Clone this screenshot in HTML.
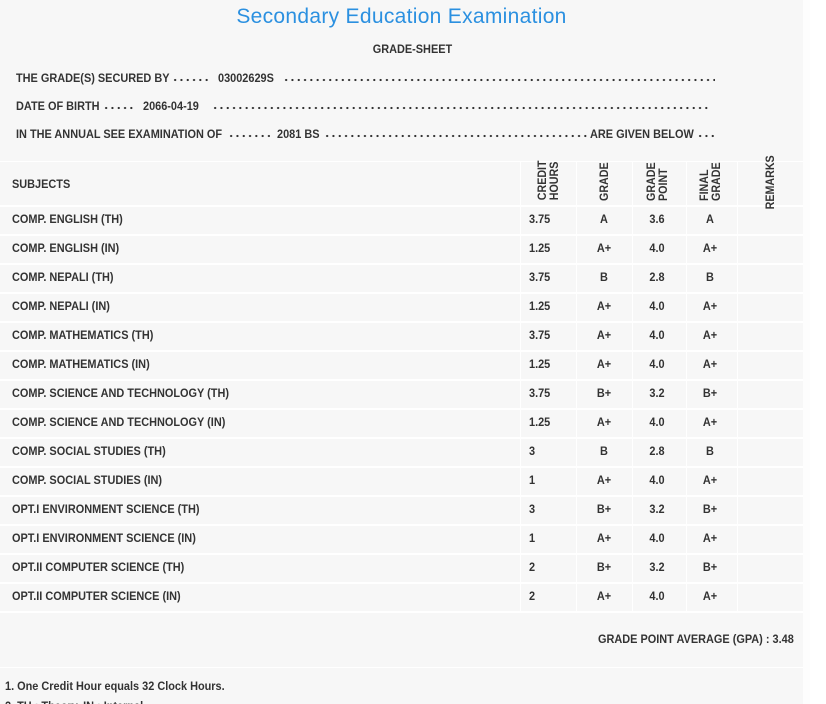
<!DOCTYPE html>
<html><head><meta charset="utf-8"><style>
html,body{margin:0;padding:0;background:#fff;}
#pg{position:relative;width:826px;height:704px;overflow:hidden;background:#fdfdfd;font-family:"Liberation Sans",sans-serif;color:#333;}
#main{position:absolute;left:0;top:0;width:803px;height:704px;background:#f7f7f7;}
.t{position:absolute;font-size:12px;font-weight:bold;white-space:nowrap;transform:scaleX(.91);transform-origin:left center;line-height:14px;}
.c{transform-origin:center center;text-align:center;width:60px;}
.dots{position:absolute;height:4px;background:radial-gradient(circle,#333 0.9px,transparent 1.3px);background-size:6.3px 4px;background-repeat:repeat-x;}
.hl{position:absolute;left:0;width:803px;height:1px;background:#fff;}
.vl{position:absolute;width:1px;background:#fff;}
.rot{position:absolute;font-size:12px;font-weight:bold;writing-mode:vertical-rl;transform:rotate(180deg) scaleY(.89);line-height:12px;white-space:nowrap;z-index:2;}
</style></head><body><div id="pg"><div id="main">
<div style="position:absolute;left:0;width:803px;top:5px;text-align:center;font-size:21px;color:#2b90e0;letter-spacing:0.3px;">Secondary Education Examination</div>
<div class="t c" style="left:370px;top:42px;">GRADE-SHEET</div>

<div class="t" style="left:16px;top:71px;">THE GRADE(S) SECURED BY</div>
<div class="dots" style="left:172px;top:78px;width:38px;"></div>
<div class="t" style="left:218px;top:71px;">03002629S</div>
<div class="dots" style="left:283px;top:78px;width:432px;"></div>

<div class="t" style="left:16px;top:99px;">DATE OF BIRTH</div>
<div class="dots" style="left:103px;top:106px;width:32px;"></div>
<div class="t" style="left:143px;top:99px;">2066-04-19</div>
<div class="dots" style="left:212px;top:106px;width:496px;"></div>

<div class="t" style="left:16px;top:127px;">IN THE ANNUAL SEE EXAMINATION OF</div>
<div class="dots" style="left:228px;top:134px;width:42px;"></div>
<div class="t" style="left:277px;top:127px;">2081 BS</div>
<div class="dots" style="left:324px;top:134px;width:266px;"></div>
<div class="t" style="left:590px;top:127px;">ARE GIVEN BELOW</div>
<div class="dots" style="left:697px;top:134px;width:20px;"></div>

<div class="hl" style="top:161px;"></div>
<div class="vl" style="left:520px;top:161px;height:450px;"></div>
<div class="vl" style="left:576px;top:161px;height:450px;"></div>
<div class="vl" style="left:632px;top:161px;height:450px;"></div>
<div class="vl" style="left:686px;top:161px;height:450px;"></div>
<div class="vl" style="left:737px;top:161px;height:450px;"></div>
<div class="t" style="left:12px;top:177px;">SUBJECTS</div>
<div class="rot" style="left:536px;bottom:501px;">CREDIT<br>HOURS</div>
<div class="rot" style="left:598px;bottom:501px;">GRADE</div>
<div class="rot" style="left:645px;bottom:501px;">GRADE<br>POINT</div>
<div class="rot" style="left:698px;bottom:501px;">FINAL<br>GRADE</div>
<div class="rot" style="left:764px;bottom:491px;">REMARKS</div>

<div id="rows"></div>
<div class="t" style="left:598px;top:632px;">GRADE POINT AVERAGE (GPA) : 3.48</div>
<div class="hl" style="top:667px;"></div>
<div class="t" style="left:5px;top:679px;">1. One Credit Hour equals 32 Clock Hours.</div>
<div class="t" style="left:5px;top:699px;">2. TH : Theory, IN : Internal</div>
</div>
<div style="position:absolute;left:810px;top:0;width:16px;height:704px;background:#fff;"></div>
</div>
<script>
var d=[["COMP. ENGLISH (TH)","3.75","A","3.6","A"],["COMP. ENGLISH (IN)","1.25","A+","4.0","A+"],["COMP. NEPALI (TH)","3.75","B","2.8","B"],["COMP. NEPALI (IN)","1.25","A+","4.0","A+"],["COMP. MATHEMATICS (TH)","3.75","A+","4.0","A+"],["COMP. MATHEMATICS (IN)","1.25","A+","4.0","A+"],["COMP. SCIENCE AND TECHNOLOGY (TH)","3.75","B+","3.2","B+"],["COMP. SCIENCE AND TECHNOLOGY (IN)","1.25","A+","4.0","A+"],["COMP. SOCIAL STUDIES (TH)","3","B","2.8","B"],["COMP. SOCIAL STUDIES (IN)","1","A+","4.0","A+"],["OPT.I ENVIRONMENT SCIENCE (TH)","3","B+","3.2","B+"],["OPT.I ENVIRONMENT SCIENCE (IN)","1","A+","4.0","A+"],["OPT.II COMPUTER SCIENCE (TH)","2","B+","3.2","B+"],["OPT.II COMPUTER SCIENCE (IN)","2","A+","4.0","A+"]];
var h="";
for(var i=0;i<d.length;i++){var yy=205+29*i;var ty=yy+7;
h+='<div class="hl" style="top:'+yy+'px;height:2px;"></div>';
h+='<div class="t" style="left:12px;top:'+ty+'px;">'+d[i][0]+'</div>';
h+='<div class="t" style="left:529px;top:'+ty+'px;">'+d[i][1]+'</div>';
h+='<div class="t c" style="left:574px;top:'+ty+'px;">'+d[i][2]+'</div>';
h+='<div class="t c" style="left:627px;top:'+ty+'px;">'+d[i][3]+'</div>';
h+='<div class="t c" style="left:680px;top:'+ty+'px;">'+d[i][4]+'</div>';}
h+='<div class="hl" style="top:611px;height:2px;"></div>';
document.getElementById("rows").innerHTML=h;
</script>
</body></html>
